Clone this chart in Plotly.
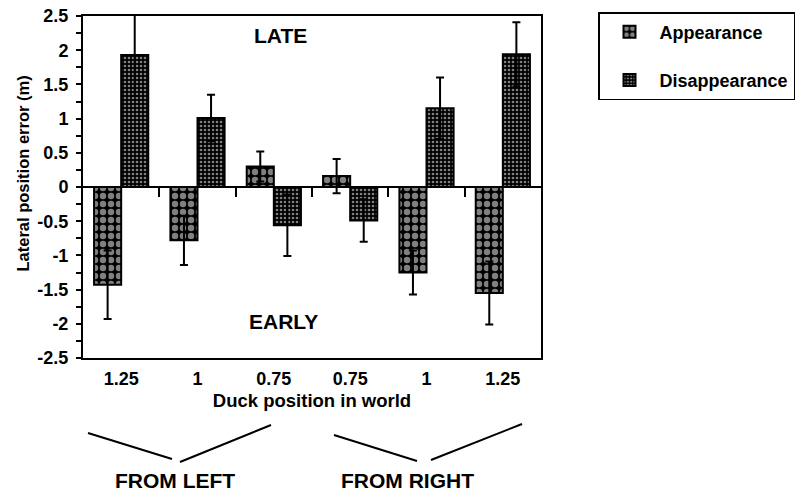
import plotly.graph_objects as go

# Duck positions along the track (three from the left, three from the right)
positions = ["1.25", "1", "0.75", "0.75", "1", "1.25"]
appearance = [-1.43, -0.78, 0.30, 0.16, -1.25, -1.55]
appearance_err = [0.50, 0.36, 0.22, 0.25, 0.32, 0.46]
disappearance = [1.93, 1.01, -0.56, -0.49, 1.15, 1.94]
disappearance_err = [0.60, 0.34, 0.45, 0.31, 0.45, 0.47]
y_tickvals = [2.5, 2, 1.5, 1, 0.5, 0, -0.5, -1, -1.5, -2, -2.5]
y_ticktext = ["2.5", "2", "1.5", "1", "0.5", "0", "-0.5", "-1", "-1.5", "-2", "-2.5"]

x_idx = list(range(len(positions)))
boundaries = [i + 0.5 for i in x_idx[:-1]]

W, H = 798, 492
ML, MR, MT, MB = 83, 257, 16, 134
PW, PH = W - ML - MR, H - MT - MB


def px(x):
    return (x - ML) / PW


def py(y):
    return (H - MB - y) / PH


FONT = "Liberation Sans, Arial, sans-serif"
err_style = dict(type="data", visible=True, color="black", thickness=2, width=4)

fig = go.Figure()
fig.add_trace(go.Bar(
    x=x_idx, y=appearance, name="Appearance", legendgroup="a",
    error_y=dict(array=appearance_err, **err_style),
    marker=dict(color="black", line=dict(color="black", width=2),
                pattern=dict(shape=".", fgcolor="white", bgcolor="black",
                             size=8, solidity=0.5)),
))
fig.add_trace(go.Bar(
    x=x_idx, y=disappearance, name="Disappearance", legendgroup="d",
    error_y=dict(array=disappearance_err, **err_style),
    marker=dict(color="black", line=dict(color="black", width=2),
                pattern=dict(shape=".", fgcolor="white", bgcolor="black",
                             size=4, solidity=0.35)),
))
# empty trace that gives the zero-crossing axis its own subplot
fig.add_trace(go.Scatter(x=[], y=[], xaxis="x2", showlegend=False,
                         hoverinfo="skip"))

fig.update_layout(
    width=W, height=H,
    margin=dict(l=ML, r=MR, t=MT, b=MB, autoexpand=False),
    plot_bgcolor="white", paper_bgcolor="white",
    barmode="group", bargap=0.29, bargroupgap=0,
    font=dict(family=FONT, color="black", size=18, weight="bold"),
    showlegend=True,
    legend=dict(x=px(598), y=py(12), xanchor="left", yanchor="top",
                bordercolor="black", borderwidth=1.5, bgcolor="white",
                itemwidth=50, tracegroupgap=22,
                font=dict(size=18, weight="bold")),
    xaxis=dict(range=[-0.5, 5.5], tickvals=x_idx, ticktext=positions,
               ticks="", showline=True, mirror=True, linecolor="black",
               linewidth=2, showgrid=False, zeroline=False,
               ticklabelstandoff=3,
               title=dict(text="Duck position in world",
                          font=dict(size=18.5, weight="bold"), standoff=6)),
    xaxis2=dict(overlaying="x", matches="x", anchor="free", position=0.5,
                side="bottom", tickvals=boundaries, ticks="outside",
                ticklen=9, tickwidth=2, tickcolor="black",
                showticklabels=False, showline=True, linecolor="black",
                linewidth=2, showgrid=False, zeroline=False),
    yaxis=dict(range=[-2.5, 2.5], tickvals=y_tickvals, ticktext=y_ticktext,
               ticks="outside", ticklen=5,
               tickwidth=1.5, tickcolor="black", showline=True, mirror=True,
               linecolor="black", linewidth=2, showgrid=False, zeroline=False,
               ticklabelstandoff=4,
               minor=dict(dtick=0.25, ticks="outside", ticklen=5,
                          tickwidth=1.5, tickcolor="black")),
)

label_font = dict(size=21, weight="bold")
for text, x, y in [("LATE", 280.5, 35.5), ("EARLY", 283, 321.7),
                   ("FROM LEFT", 175, 480), ("FROM RIGHT", 407, 480)]:
    fig.add_annotation(text=text, x=px(x), y=py(y), xref="paper", yref="paper",
                       xanchor="center", yanchor="middle", showarrow=False,
                       font=label_font)

fig.add_annotation(text="Lateral position error (m)", x=px(22), y=py(173.5),
                   xref="paper", yref="paper", xanchor="center",
                   yanchor="middle", textangle=-90, showarrow=False,
                   font=dict(size=16.5, weight="bold"))

# Brackets grouping the left and right approach directions
brackets = [((88, 433), (172, 459)), ((180, 462), (271, 425)),
            ((334, 435), (417, 461)), ((431, 460), (522, 424))]
for (x0, y0), (x1, y1) in brackets:
    fig.add_shape(type="line", xref="paper", yref="paper",
                  x0=px(x0), y0=py(y0), x1=px(x1), y1=py(y1),
                  line=dict(color="black", width=2))

fig.write_html("out.html")
